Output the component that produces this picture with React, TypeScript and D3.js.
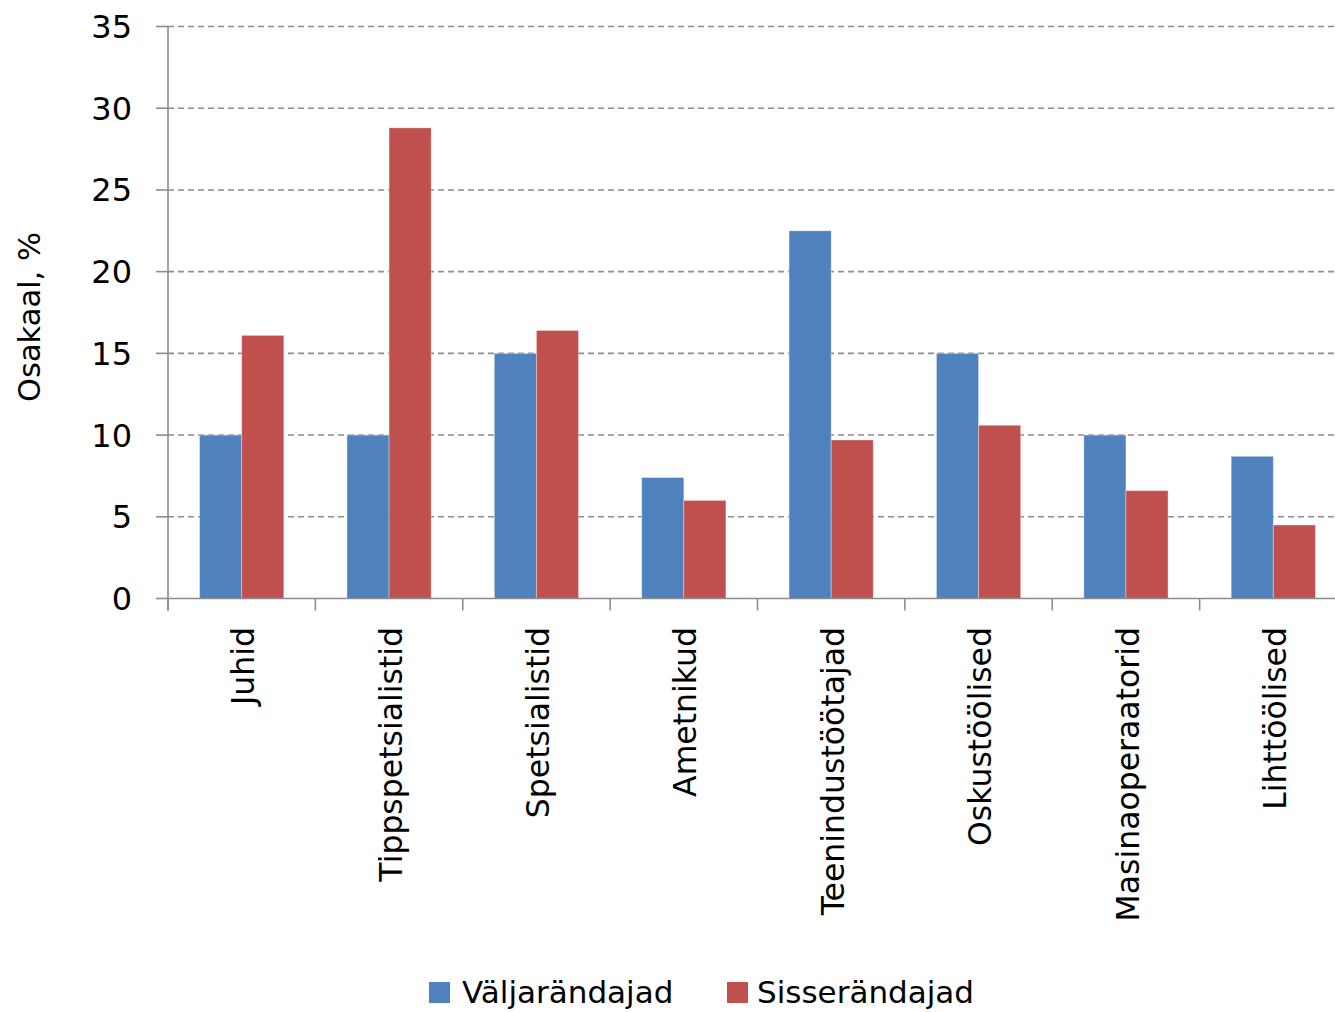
import React from "react";
import * as d3 from "d3";

const categories = [
  "Juhid",
  "Tippspetsialistid",
  "Spetsialistid",
  "Ametnikud",
  "Teenindustöötajad",
  "Oskustöölised",
  "Masinaoperaatorid",
  "Lihttöölised",
];
const seriesNames = ["Väljarändajad", "Sisserändajad"];
const valjarandajad = [10, 10, 15, 7.4, 22.5, 15, 10, 8.7];
const sisserandajad = [16.1, 28.8, 16.4, 6.0, 9.7, 10.6, 6.6, 4.5];
const yTicks = [0, 5, 10, 15, 20, 25, 30, 35];
const colors = ["#4F81BD", "#C0504D"];

const width = 1335;
const height = 1012;
const FONT = "'DejaVu Sans', Verdana, sans-serif";

const App = () => {
  const left = 168;
  const right = 1347;
  const top = 26.5;
  const bottom = 598.5;

  const xScale = d3.scaleBand().domain(categories).range([left, right]).padding(0);
  // gap width 150% of a bar, like the original
  const groupW = (xScale.bandwidth() * 2) / 3.5;
  const xInner = d3.scaleBand().domain(seriesNames).range([0, groupW]).padding(0);
  const yScale = d3.scaleLinear().domain([0, 35]).range([bottom, top]);

  const series = [valjarandajad, sisserandajad];

  const grid = yTicks.map((t) => (
    <g key={t}>
      {t > 0 && (
        <line
          x1={left}
          x2={width}
          y1={yScale(t)}
          y2={yScale(t)}
          stroke="#8c8c8c"
          strokeWidth={1.6}
          strokeDasharray="6,4"
        />
      )}
      <line x1={left - 12} x2={left} y1={yScale(t)} y2={yScale(t)} stroke="#8c8c8c" strokeWidth={1.6} />
      <text
        x={132}
        y={yScale(t)}
        dy="0.36em"
        textAnchor="end"
        fontSize={32}
        fontFamily={FONT}
        fill="#000"
      >
        {t}
      </text>
    </g>
  ));

  const bars = categories.map((c, i) => {
    const x0 = (xScale(c) as number) + (xScale.bandwidth() - groupW) / 2;
    return (
      <g key={c}>
        {seriesNames.map((s, j) => (
          <rect
            key={s}
            x={x0 + (xInner(s) as number)}
            y={yScale(series[j][i])}
            width={xInner.bandwidth()}
            height={yScale(0) - yScale(series[j][i])}
            fill={colors[j]}
            stroke="rgba(255,255,255,0.35)"
            strokeWidth={1}
          />
        ))}
      </g>
    );
  });

  const catTicks = d3.range(categories.length + 1).map((i) => {
    const x = left + i * xScale.bandwidth();
    return <line key={i} x1={x} x2={x} y1={bottom} y2={bottom + 12} stroke="#8c8c8c" strokeWidth={1.6} />;
  });

  const catLabels = categories.map((c) => {
    const cx = (xScale(c) as number) + xScale.bandwidth() / 2;
    return (
      <text
        key={c}
        transform={`translate(${cx},627) rotate(-90)`}
        dy="0.4em"
        textAnchor="end"
        fontSize={31.5}
        fontFamily={FONT}
        fill="#000"
      >
        {c}
      </text>
    );
  });

  const legendItems = [
    { x: 429, tx: 462 },
    { x: 727, tx: 757 },
  ];

  return (
    <div>
      <svg
        width={width}
        height={height}
        style={{ position: "absolute", left: 0, top: 0, background: "#fff" }}
      >
        {grid}
        {bars}
        <line x1={left} x2={left} y1={top} y2={bottom + 12} stroke="#8c8c8c" strokeWidth={1.6} />
        <line x1={left} x2={width} y1={bottom} y2={bottom} stroke="#8c8c8c" strokeWidth={1.6} />
        {catTicks}
        {catLabels}
        <text
          transform="translate(40,317) rotate(-90)"
          textAnchor="middle"
          fontSize={30.5}
          fontFamily={FONT}
          fill="#000"
        >
          Osakaal, %
        </text>
        {seriesNames.map((s, j) => (
          <g key={s}>
            <rect x={legendItems[j].x} y={982} width={21} height={21} fill={colors[j]} />
            <text x={legendItems[j].tx} y={1003} fontSize={31} fontFamily={FONT} fill="#000">
              {s}
            </text>
          </g>
        ))}
      </svg>
    </div>
  );
};

export default App;
